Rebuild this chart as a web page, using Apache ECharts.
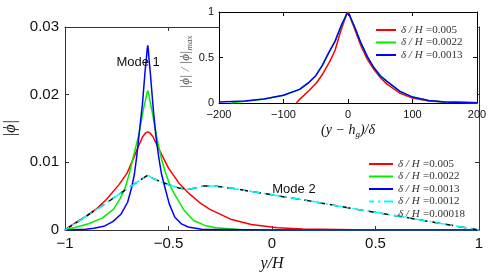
<!DOCTYPE html>
<html><head><meta charset="utf-8">
<script src="https://cdn.jsdelivr.net/npm/echarts@6/dist/echarts.min.js"></script>
<style>html,body{margin:0;padding:0;background:#fff}#c{width:491px;height:275px}</style>
</head><body><div id="c"></div>
<script>
// ---- data ----
const seriesNames = ['δ/H =0.005', 'δ/H =0.0022', 'δ/H =0.0013', 'δ/H =0.0012', 'δ/H =0.00018'];
const seriesColors = ['#ff0000', '#00ee00', '#0000ff', '#00ffff', '#000000'];

// main panel: [y/H, |phi|]
const redMain = [[-1,0],[-0.975,0.00058],[-0.9,0.00203],[-0.845,0.00319],[-0.8,0.0045],[-0.74,0.00667],[-0.7,0.0084],[-0.665,0.01088],[-0.65,0.01204],[-0.625,0.01378],[-0.61,0.01436],[-0.6,0.0145],[-0.59,0.01436],[-0.575,0.01378],[-0.55,0.01218],[-0.5,0.00914],[-0.45,0.00696],[-0.4,0.00537],[-0.35,0.00406],[-0.3,0.00305],[-0.2,0.0016],[-0.1,0.0008],[0.025,0.00032],[0.15,0.000145],[0.4,0.00003],[1,0]];
const greenMain = [[-1,0],[-0.985,0.00012],[-0.952,0.00037],[-0.886,0.00093],[-0.82,0.00175],[-0.765,0.00309],[-0.732,0.00474],[-0.71,0.00618],[-0.688,0.00845],[-0.666,0.01133],[-0.644,0.014],[-0.622,0.01772],[-0.611,0.0192],[-0.6044,0.0202],[-0.6,0.0206],[-0.5956,0.0201],[-0.589,0.019],[-0.578,0.0173],[-0.556,0.0136],[-0.534,0.0105],[-0.512,0.00824],[-0.49,0.00639],[-0.468,0.00515],[-0.424,0.00288],[-0.38,0.00144],[-0.325,0.00068],[-0.27,0.00033],[-0.16,0.00008],[0.2,0],[1,0]];
const blueMain = [[-1,0],[-0.9,0.0001],[-0.86,0.00027],[-0.808,0.0006],[-0.769,0.00123],[-0.73,0.00232],[-0.6975,0.0041],[-0.678,0.00628],[-0.665,0.0082],[-0.652,0.0112],[-0.639,0.015],[-0.626,0.01856],[-0.613,0.0235],[-0.6065,0.0254],[-0.6026,0.0268],[-0.6,0.0273],[-0.5974,0.0266],[-0.5935,0.0251],[-0.587,0.0229],[-0.574,0.018],[-0.561,0.0139],[-0.548,0.0109],[-0.535,0.00846],[-0.522,0.00683],[-0.496,0.00382],[-0.47,0.00191],[-0.4375,0.0009],[-0.405,0.00044],[-0.34,0.00011],[0,0],[1,0]];
const cyanMain = [[-1,0],[-0.9,0.002],[-0.8,0.004],[-0.7,0.0061],[-0.64,0.0073],[-0.6,0.0081],[-0.58,0.0077],[-0.55,0.0073],[-0.5,0.0067],[-0.45,0.0062],[-0.41,0.006],[-0.37,0.0062],[-0.33,0.0065],[-0.28,0.0065],[-0.2,0.0062],[-0.1,0.0057],[0,0.0052],[0.2,0.0042],[0.4,0.0031],[0.6,0.0021],[0.8,0.00105],[1,0]];
const blackMain = [[-1,0],[-0.9,0.002],[-0.8,0.004],[-0.7,0.0061],[-0.64,0.0073],[-0.6,0.0081],[-0.58,0.0077],[-0.55,0.0073],[-0.5,0.0067],[-0.45,0.0062],[-0.41,0.006],[-0.37,0.0062],[-0.33,0.0065],[-0.28,0.0065],[-0.2,0.0062],[-0.1,0.0057],[0,0.0052],[0.2,0.0042],[0.4,0.0031],[0.6,0.0021],[0.8,0.00105],[1,0]];

// inset: [(y-hg)/delta, |phi|/|phi|max]
const redInset = [[-80,0],[-75,0.04],[-60,0.14],[-49,0.22],[-40,0.31],[-28,0.46],[-20,0.58],[-13,0.75],[-5,0.92],[-2,0.975],[0,1],[2,0.97],[5,0.91],[10,0.82],[20,0.63],[30,0.48],[40,0.37],[50,0.28],[60,0.21],[80,0.11],[100,0.055],[125,0.022],[150,0.01],[200,0.002]];
const greenInset = [[-182,0],[-175,0.006],[-160,0.018],[-130,0.043],[-100,0.085],[-75,0.15],[-60,0.23],[-50,0.30],[-40,0.41],[-30,0.55],[-20,0.68],[-10,0.86],[-5,0.93],[-2,0.98],[0,1],[2,0.975],[5,0.92],[10,0.84],[20,0.66],[30,0.51],[40,0.39],[50,0.30],[60,0.24],[80,0.13],[100,0.065],[125,0.027],[150,0.012],[200,0.003]];
const blueInset = [[-200,0.01],[-160,0.022],[-130,0.045],[-100,0.085],[-75,0.15],[-60,0.23],[-50,0.30],[-40,0.41],[-30,0.55],[-20,0.68],[-10,0.86],[-5,0.93],[-2,0.98],[0,1],[2,0.975],[5,0.92],[10,0.84],[20,0.66],[30,0.51],[40,0.39],[50,0.30],[60,0.24],[80,0.13],[100,0.065],[125,0.027],[150,0.012],[200,0.003]];

const mainX = {min: -1, max: 1, interval: 0.5};
const mainY = {min: 0, max: 0.03, interval: 0.01};
const insetX = {min: -200, max: 200, interval: 100};
const insetY = {min: 0, max: 1, interval: 0.5};

const annotations = [{text: 'Mode 1', at: [-0.647, 0.0248]}, {text: 'Mode 2', at: [0.106, 0.0060]}];

// ---- chart ----
const chart = echarts.init(document.getElementById('c'), null, {renderer: 'canvas'});
const axisCol = '#333';
const minus = v => String(v).replace('-', '\u2212');
const serifRich = {
  a: {fontFamily: 'Liberation Serif', fontStyle: 'italic', fontSize: 11, color: '#333', lineHeight: 10},
  b: {fontFamily: 'Liberation Serif', fontSize: 11, color: '#333', lineHeight: 10}
};
const legendFmt = n => { const p = n.split('='); return '{a|δ / H} {b|=' + p[1] + '}'; };

function ax(range, gi, opts) {
  return Object.assign({
    type: 'value', gridIndex: gi, min: range.min, max: range.max, interval: range.interval,
    axisLine: {show: true, onZero: false, lineStyle: {color: gi ? '#000' : axisCol, width: 1}},
    axisTick: {show: true, inside: true, length: 4, lineStyle: {color: gi ? '#000' : axisCol}},
    splitLine: {show: false},
    z: gi ? 11 : 0
  }, opts);
}

const mainLabel = {fontFamily: 'Liberation Sans', fontSize: 15, color: '#111', margin: 6};
const insetLabel = {fontFamily: 'Liberation Sans', fontSize: 11, color: '#111', margin: 5};

const line = (name, data, color, xi, yi, extra) => Object.assign({
  type: 'line', name, data, xAxisIndex: xi, yAxisIndex: yi, symbol: 'none', smooth: false,
  lineStyle: {color, width: 1.5}, itemStyle: {color}, z: xi ? 12 : 2, silent: true, animation: false
}, extra || {});

const hiddenSym = {opacity: 0, color: 'transparent', borderWidth: 0};

const option = {
  animation: false,
  backgroundColor: '#fff',
  grid: [
    {left: 65, top: 27, width: 414, height: 203, show: false, containLabel: false, outerBoundsMode: 'none'},
    {left: 219, top: 12, width: 258, height: 91, show: true, backgroundColor: '#fff', borderWidth: 0, z: 10, containLabel: false, outerBoundsMode: 'none'}
  ],
  xAxis: [
    ax(mainX, 0, {position: 'bottom', axisLabel: Object.assign({formatter: minus}, mainLabel),
      name: 'y/H', nameLocation: 'middle', nameGap: 24,
      nameTextStyle: {fontFamily: 'Liberation Serif', fontStyle: 'italic', fontSize: 16, color: '#111'}}),
    ax(mainX, 0, {position: 'top', axisLabel: {show: false}}),
    ax(insetX, 1, {position: 'bottom', axisLabel: Object.assign({formatter: minus}, insetLabel, {margin: 6}),
      name: '{a|(y − h}{s|g}{a|)/δ}', nameLocation: 'middle', nameGap: 19,
      nameTextStyle: {rich: {
        a: {fontFamily: 'Liberation Serif', fontStyle: 'italic', fontSize: 14, color: '#111'},
        s: {fontFamily: 'Liberation Serif', fontStyle: 'italic', fontSize: 9, color: '#111', padding: [8, 0, 0, 0]}
      }}}),
    ax(insetX, 1, {position: 'top', axisLabel: {show: false}})
  ],
  yAxis: [
    ax(mainY, 0, {position: 'left', axisLabel: Object.assign({formatter: v => v === 0 ? '0' : v.toFixed(2)}, mainLabel),
      name: '|ϕ|', nameLocation: 'middle', nameGap: 38,
      nameTextStyle: {fontFamily: 'Liberation Serif', fontStyle: 'italic', fontSize: 16, color: '#111'}}),
    ax(mainY, 0, {position: 'right', axisLabel: {show: false}}),
    ax(insetY, 1, {position: 'left', axisLabel: Object.assign({formatter: v => String(v)}, insetLabel)}),
    ax(insetY, 1, {position: 'right', axisLabel: {show: false}})
  ],
  legend: [
    {orient: 'vertical', left: 368, top: 158, padding: 0, itemWidth: 24, itemHeight: 10, itemGap: 0.5,
     selectedMode: false, formatter: legendFmt, textStyle: {rich: serifRich}, itemStyle: hiddenSym,
     data: [seriesNames[0], seriesNames[1], seriesNames[2], seriesNames[3],
            {name: seriesNames[4], lineStyle: {opacity: 0}, itemStyle: hiddenSym}], z: 5},
    {orient: 'vertical', left: 375, top: 24, padding: 0, itemWidth: 20, itemHeight: 10, itemGap: 0.5,
     selectedMode: false, formatter: legendFmt, textStyle: {rich: serifRich}, itemStyle: hiddenSym,
     data: [seriesNames[0], seriesNames[1], seriesNames[2]], z: 13}
  ],
  series: [
    line(seriesNames[0], redMain, seriesColors[0], 0, 0),
    line(seriesNames[1], greenMain, seriesColors[1], 0, 0),
    line(seriesNames[2], blueMain, seriesColors[2], 0, 0),
    line(seriesNames[4], blackMain, seriesColors[4], 0, 0, {lineStyle: {color: '#000', width: 1.5, type: [8, 5]}}),
    line(seriesNames[3], cyanMain, seriesColors[3], 0, 0, {lineStyle: {color: '#00ffff', width: 1.5, type: [11, 4, 2, 4], dashOffset: 6}}),
    line(seriesNames[0], redInset, seriesColors[0], 2, 2),
    line(seriesNames[1], greenInset, seriesColors[1], 2, 2),
    line(seriesNames[2], blueInset, seriesColors[2], 2, 2)
  ]
};
chart.setOption(option);

const g = annotations.map(a => {
  const p = chart.convertToPixel({gridIndex: 0}, a.at);
  return {type: 'text', x: p[0], y: p[1], z: 8, silent: true,
    style: {text: a.text, fill: '#111', font: '13px "Liberation Sans"', align: 'center', verticalAlign: 'middle'}};
});
g.push({type: 'text', x: 186, y: 62, rotation: Math.PI / 2, z: 15, silent: true,
  style: {text: '{a|\u007Cϕ\u007C / \u007Cϕ\u007C}{s|max}', align: 'center', verticalAlign: 'middle',
    rich: {a: {fontFamily: 'Liberation Serif', fontStyle: 'italic', fontSize: 13, fill: '#555'},
           s: {fontFamily: 'Liberation Serif', fontStyle: 'italic', fontSize: 9, fill: '#555', padding: [7, 0, 0, 0]}}}});
chart.setOption({graphic: g});
</script></body></html>
